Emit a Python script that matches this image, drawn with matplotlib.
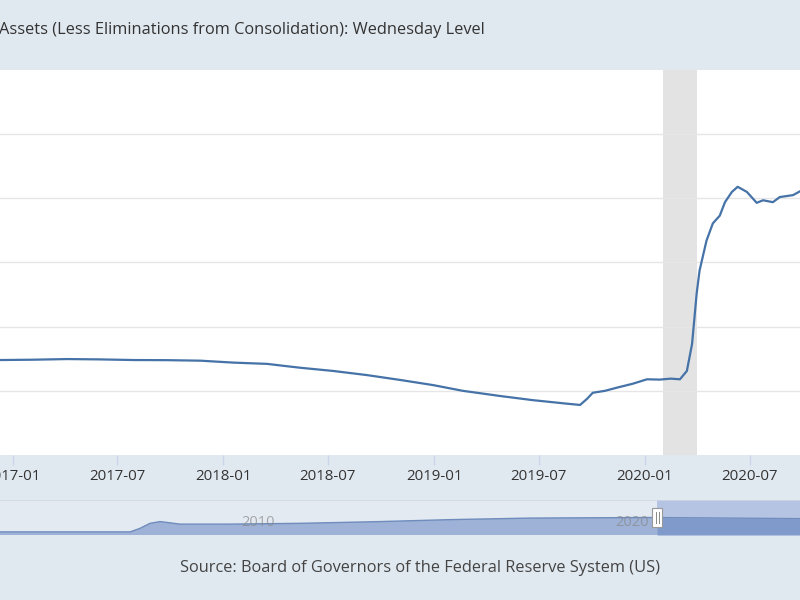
import numpy as np
import pandas as pd
import matplotlib
matplotlib.use("Agg")
import matplotlib.pyplot as plt
import matplotlib.dates as mdates
from matplotlib.patches import Rectangle

plt.rcParams['font.family'] = ['Open Sans', 'DejaVu Sans']

# Total assets, Wednesday level (millions of dollars)
dates = pd.to_datetime([
    "2016-12-10", "2017-02-05", "2017-04-05", "2017-06-01", "2017-07-29",
    "2017-09-25", "2017-11-22", "2018-01-18", "2018-02-16", "2018-03-18",
    "2018-04-15", "2018-05-14", "2018-07-10", "2018-09-07", "2018-11-03",
    "2018-12-30", "2019-02-20", "2019-04-25", "2019-06-21", "2019-08-19",
    "2019-09-11", "2019-09-23", "2019-10-03", "2019-10-24", "2019-11-14",
    "2019-12-11", "2020-01-05", "2020-01-27", "2020-02-15", "2020-03-02",
    "2020-03-14", "2020-03-23", "2020-03-31", "2020-04-05", "2020-04-17",
    "2020-04-28", "2020-05-10", "2020-05-19", "2020-05-31", "2020-06-10",
    "2020-06-26", "2020-07-13", "2020-07-24", "2020-08-10", "2020-08-22",
    "2020-09-14", "2020-09-26",
])
total_assets = [
    4480000, 4485000, 4495000, 4490000, 4480000,
    4478000, 4470000, 4440000, 4430000, 4420000,
    4390000, 4360000, 4310000, 4245000, 4170000,
    4090000, 4000000, 3920000, 3855000, 3800000,
    3780000, 3875000, 3970000, 4000000, 4050000,
    4110000, 4180000, 4175000, 4190000, 4180000,
    4310000, 4730000, 5520000, 5875000, 6340000,
    6610000, 6730000, 6940000, 7100000, 7180000,
    7100000, 6930000, 6970000, 6940000, 7020000,
    7050000, 7110000,
]

recession_start = pd.Timestamp("2020-02-01")
recession_end = pd.Timestamp("2020-04-01")

# navigator (full history, shown in its own scale)
nav_years = [2003.10, 2006.58, 2006.84, 2007.11, 2007.38, 2007.59, 2007.91,
             2009.25, 2011.12, 2013.26, 2015.13, 2017.27, 2020.48, 2024.49]
nav_values = [0.8, 0.8, 1.7, 3.0, 3.45, 3.2, 2.8,
              2.8, 3.0, 3.45, 3.95, 4.35, 4.5, 4.2]
nav_ticks = [2010, 2020]
nav_select_start = 2020.67

title = "Assets (Less Eliminations from Consolidation): Wednesday Level"
source = "Source: Board of Governors of the Federal Reserve System (US)"

band = '#e1e9f0'
line_color = '#4572a7'

fig = plt.figure(figsize=(8, 6), dpi=100, facecolor=band)

# main plot: y from 70 to 455 px
ax = fig.add_axes([0, 145 / 600, 1, 385 / 600])
ax.set_facecolor('white')
ax.plot(dates, total_assets, color=line_color, lw=1.6, solid_joinstyle='round')
ax.axvspan(recession_start, recession_end, color='#e3e3e3', lw=0, zorder=0)
ax.set_xlim(pd.Timestamp("2016-12-10"), pd.Timestamp("2020-09-26"))
ax.set_ylim(3000000, 9000000)
ax.set_yticks([4000000, 5000000, 6000000, 7000000, 8000000])
ax.yaxis.grid(True, color='#e6e6e6', lw=1)
ax.set_axisbelow(True)
ax.tick_params(axis='y', left=False, labelleft=False)
ax.xaxis.set_major_locator(mdates.MonthLocator(bymonth=[1, 7]))
ax.xaxis.set_major_formatter(mdates.DateFormatter('%Y-%m'))
ax.tick_params(axis='x', direction='out', length=7, width=1, color='#ccd6eb',
               labelsize=10.8, labelcolor='#333333', pad=3)
for s in ax.spines.values():
    s.set_visible(False)

# navigator: y from 500 to 535 px
nav = fig.add_axes([0, 65 / 600, 1, 35 / 600])
nav.set_facecolor('#e4eaf2')
nav.set_xlim(nav_years[0], nav_years[-1])
nav.set_ylim(0, 9)
nav.fill_between(nav_years, nav_values, color='#9db2d6', lw=0)
nav.plot(nav_years, nav_values, color='#6f8cbd', lw=1)
nav.axvspan(nav_select_start, nav_years[-1], ymin=0, ymax=1, color='#b4c4e2', lw=0, zorder=0)
sel = np.array(nav_years) >= nav_select_start
xs = [nav_select_start] + list(np.array(nav_years)[sel])
ys = [np.interp(nav_select_start, nav_years, nav_values)] + list(np.array(nav_values)[sel])
nav.fill_between(xs, ys, color='#7f9acb', lw=0, zorder=2)
for t in nav_ticks:
    nav.text(t, 3.2, str(t), ha='center', va='center', fontsize=10.5,
             color='#888888', alpha=0.7, zorder=3)
nav.set_xticks([])
nav.set_yticks([])
for s in nav.spines.values():
    s.set_visible(False)
nav.axhline(9, color='#cfd8e3', lw=1.2)
# handle
hx = nav_select_start
nav.add_patch(Rectangle((hx - 0.14, 2.1), 0.28, 4.9, facecolor='white',
                        edgecolor='#999999', lw=0.8, zorder=5))
nav.plot([hx - 0.04, hx - 0.04], [3.2, 5.9], color='#888888', lw=0.7, zorder=6)
nav.plot([hx + 0.04, hx + 0.04], [3.2, 5.9], color='#888888', lw=0.7, zorder=6)

fig.text(-0.001, 1 - 30 / 600, title, ha='left', va='center', fontsize=11.8,
         color='#333333')
fig.text(420 / 800, 1 - 568 / 600, source, ha='center', va='center',
         fontsize=11.8, color='#444444')

fig.savefig("out.png", dpi=100, facecolor=band)
